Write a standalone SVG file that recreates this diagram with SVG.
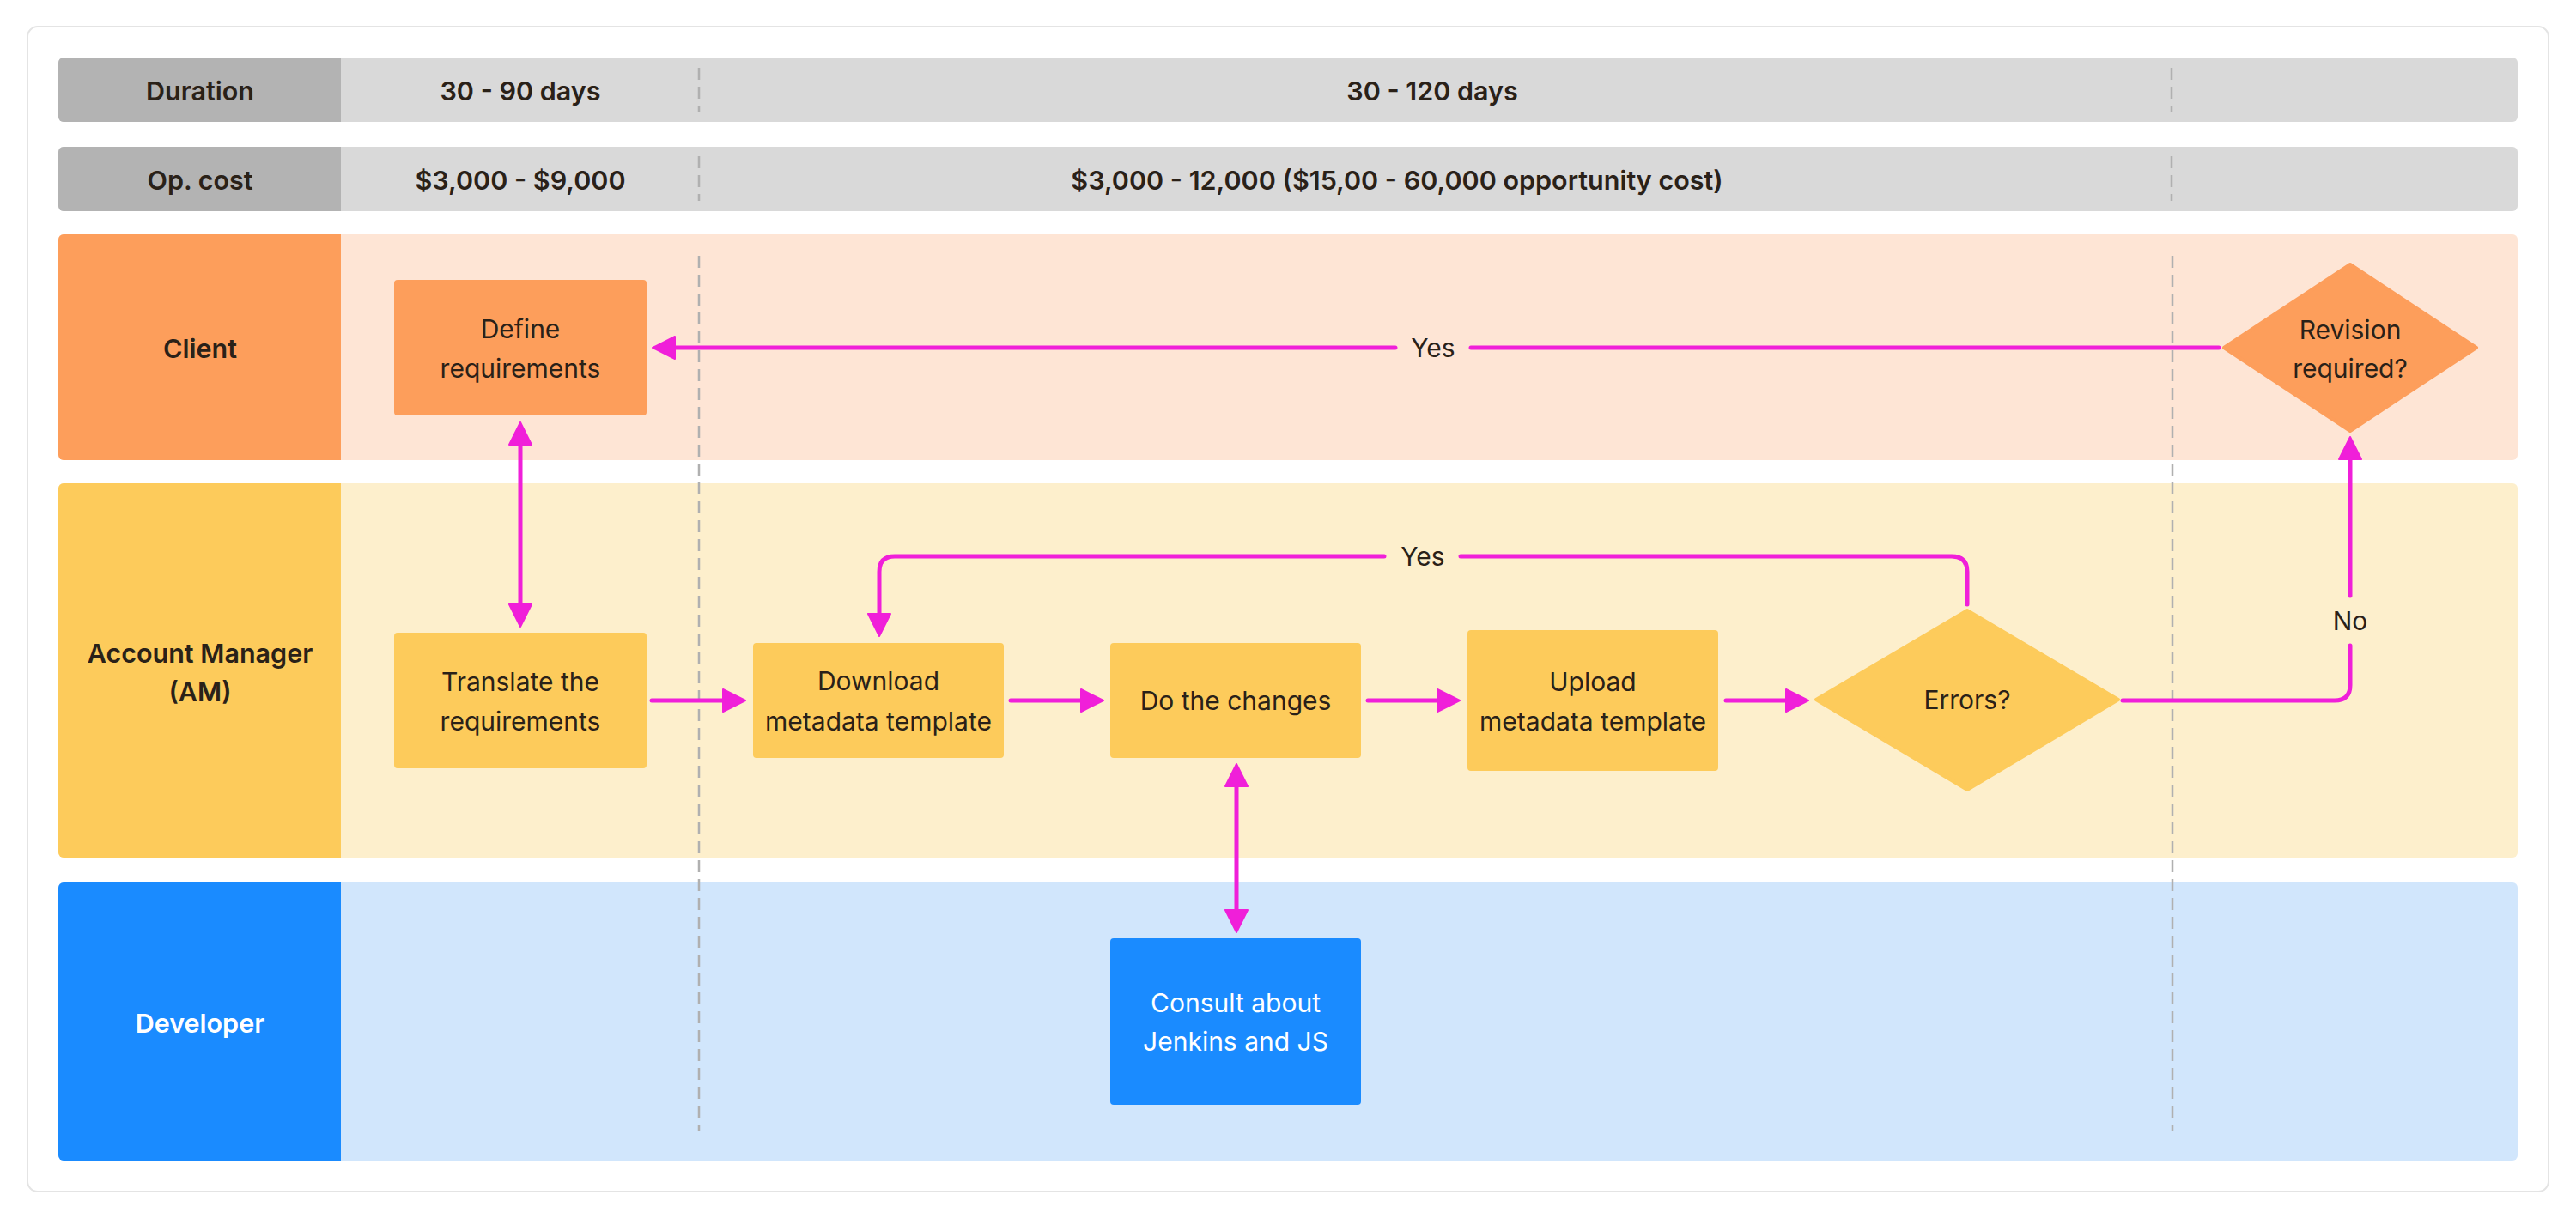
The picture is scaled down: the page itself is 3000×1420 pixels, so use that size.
<svg xmlns="http://www.w3.org/2000/svg" width="3000" height="1420" viewBox="0 0 3000 1420">
<defs>
<style>
.t{font-family:Inter,"Noto Sans","Liberation Sans",sans-serif;fill:#2a2118;text-anchor:middle;dominant-baseline:central}
.hd{font-size:30.5px;font-weight:600}
.bx{font-size:30px;font-weight:400}
.w{fill:#ffffff}
.dash{stroke:#b0b0b0;stroke-width:2.5;stroke-dasharray:14 8;fill:none}
.con{fill:none;stroke:#f01fd9;stroke-width:5;stroke-linecap:round;stroke-linejoin:round}
</style>
<marker id="ah" viewBox="0 0 28 30" refX="1" refY="15" markerWidth="28" markerHeight="30" markerUnits="userSpaceOnUse" orient="auto-start-reverse">
<path d="M1 2 L27 15 L1 28 Z" fill="#f01fd9" stroke="#f01fd9" stroke-width="2" stroke-linejoin="round"/>
</marker>
</defs>
<rect x="0" y="0" width="3000" height="1420" fill="#ffffff"/>
<rect x="32" y="31" width="2936" height="1357" rx="12" fill="#ffffff" stroke="#e4e4e4" stroke-width="2"/>

<g id="row-duration">
<rect x="68" y="67" width="2864" height="75" rx="6" fill="#d9d9d9"/>
<path d="M74 67 H397 V142 H74 A6 6 0 0 1 68 136 V73 A6 6 0 0 1 74 67 Z" fill="#b3b3b3"/>
<text class="t hd" x="233" y="105">Duration</text>
<text class="t hd" x="606" y="105">30 - 90 days</text>
<text class="t hd" x="1668" y="105">30 - 120 days</text>
</g>
<g id="row-opcost">
<rect x="68" y="171" width="2864" height="75" rx="6" fill="#d9d9d9"/>
<path d="M74 171 H397 V246 H74 A6 6 0 0 1 68 240 V177 A6 6 0 0 1 74 171 Z" fill="#b3b3b3"/>
<text class="t hd" x="233" y="209">Op. cost</text>
<text class="t hd" x="606" y="209">$3,000 - $9,000</text>
<text class="t hd" x="1627" y="209">$3,000 - 12,000 ($15,00 - 60,000 opportunity cost)</text>
</g>

<g id="lane-client">
<rect x="68" y="273" width="2864" height="263" rx="6" fill="#fee5d5"/>
<path d="M74 273 H397 V536 H74 A6 6 0 0 1 68 530 V279 A6 6 0 0 1 74 273 Z" fill="#fd9e5b"/>
<text class="t hd" x="233" y="405">Client</text>
</g>
<g id="lane-am">
<rect x="68" y="563" width="2864" height="436" rx="6" fill="#fdefcc"/>
<path d="M74 563 H397 V999 H74 A6 6 0 0 1 68 993 V569 A6 6 0 0 1 74 563 Z" fill="#fdcb5b"/>
<text class="t hd" x="233" y="760">Account Manager</text>
<text class="t hd" x="233" y="805">(AM)</text>
</g>
<g id="lane-dev">
<rect x="68" y="1028" width="2864" height="324" rx="6" fill="#d1e6fc"/>
<path d="M74 1028 H397 V1352 H74 A6 6 0 0 1 68 1346 V1034 A6 6 0 0 1 74 1028 Z" fill="#1a8bff"/>
<text class="t hd w" x="233" y="1191">Developer</text>
</g>

<g id="dividers">
<line class="dash" x1="814" y1="79" x2="814" y2="130"/>
<line class="dash" x1="814" y1="182" x2="814" y2="234"/>
<line class="dash" x1="814" y1="298" x2="814" y2="1317"/>
<line class="dash" x1="2529" y1="79" x2="2529" y2="130"/>
<line class="dash" x1="2529" y1="182" x2="2529" y2="234"/>
<line class="dash" x1="2530" y1="298" x2="2530" y2="1317"/>
</g>

<g id="connectors">
<path class="con" d="M2584 405 H1713 M1625 405 H786" marker-end="url(#ah)"/>
<path class="con" d="M606 518 V704" marker-start="url(#ah)" marker-end="url(#ah)"/>
<path class="con" d="M759 816 H842" marker-end="url(#ah)"/>
<path class="con" d="M1177 816 H1259" marker-end="url(#ah)"/>
<path class="con" d="M1593 816 H1674" marker-end="url(#ah)"/>
<path class="con" d="M2010 816 H2080" marker-end="url(#ah)"/>
<path class="con" d="M2291 704 V666 Q2291 648 2273 648 H1701 M1612 648 H1042 Q1024 648 1024 666 V715" marker-end="url(#ah)"/>
<path class="con" d="M2472 816 H2719 Q2737 816 2737 798 V752 M2737 694 V535" marker-end="url(#ah)"/>
<path class="con" d="M1440 916 V1060" marker-start="url(#ah)" marker-end="url(#ah)"/>
<text class="t bx" x="1669" y="405">Yes</text>
<text class="t bx" x="1657" y="648">Yes</text>
<text class="t bx" x="2737" y="723">No</text>
</g>

<g id="node-define">
<rect x="459" y="326" width="294" height="158" rx="4" fill="#fd9e5b"/>
<text class="t bx" x="606" y="383">Define</text>
<text class="t bx" x="606" y="429">requirements</text>
</g>
<g id="node-revision">
<path d="M2737 308 L2884 405 L2737 502 L2590 405 Z" fill="#fd9e5b" stroke="#fd9e5b" stroke-width="4" stroke-linejoin="round"/>
<text class="t bx" x="2737" y="384">Revision</text>
<text class="t bx" x="2737" y="429">required?</text>
</g>
<g id="node-translate">
<rect x="459" y="737" width="294" height="158" rx="4" fill="#fdcb5b"/>
<text class="t bx" x="606" y="794">Translate the</text>
<text class="t bx" x="606" y="840">requirements</text>
</g>
<g id="node-download">
<rect x="877" y="749" width="292" height="134" rx="4" fill="#fdcb5b"/>
<text class="t bx" x="1023" y="793">Download</text>
<text class="t bx" x="1023" y="840">metadata template</text>
</g>
<g id="node-dochanges">
<rect x="1293" y="749" width="292" height="134" rx="4" fill="#fdcb5b"/>
<text class="t bx" x="1439" y="816">Do the changes</text>
</g>
<g id="node-upload">
<rect x="1709" y="734" width="292" height="164" rx="4" fill="#fdcb5b"/>
<text class="t bx" x="1855" y="794">Upload</text>
<text class="t bx" x="1855" y="840">metadata template</text>
</g>
<g id="node-errors">
<path d="M2291 711 L2467 815 L2291 920 L2115 815 Z" fill="#fdcb5b" stroke="#fdcb5b" stroke-width="4" stroke-linejoin="round"/>
<text class="t bx" x="2291" y="815">Errors?</text>
</g>
<g id="node-consult">
<rect x="1293" y="1093" width="292" height="194" rx="4" fill="#1a8bff"/>
<text class="t bx w" x="1439" y="1168">Consult about</text>
<text class="t bx w" x="1439" y="1213">Jenkins and JS</text>
</g>
</svg>
